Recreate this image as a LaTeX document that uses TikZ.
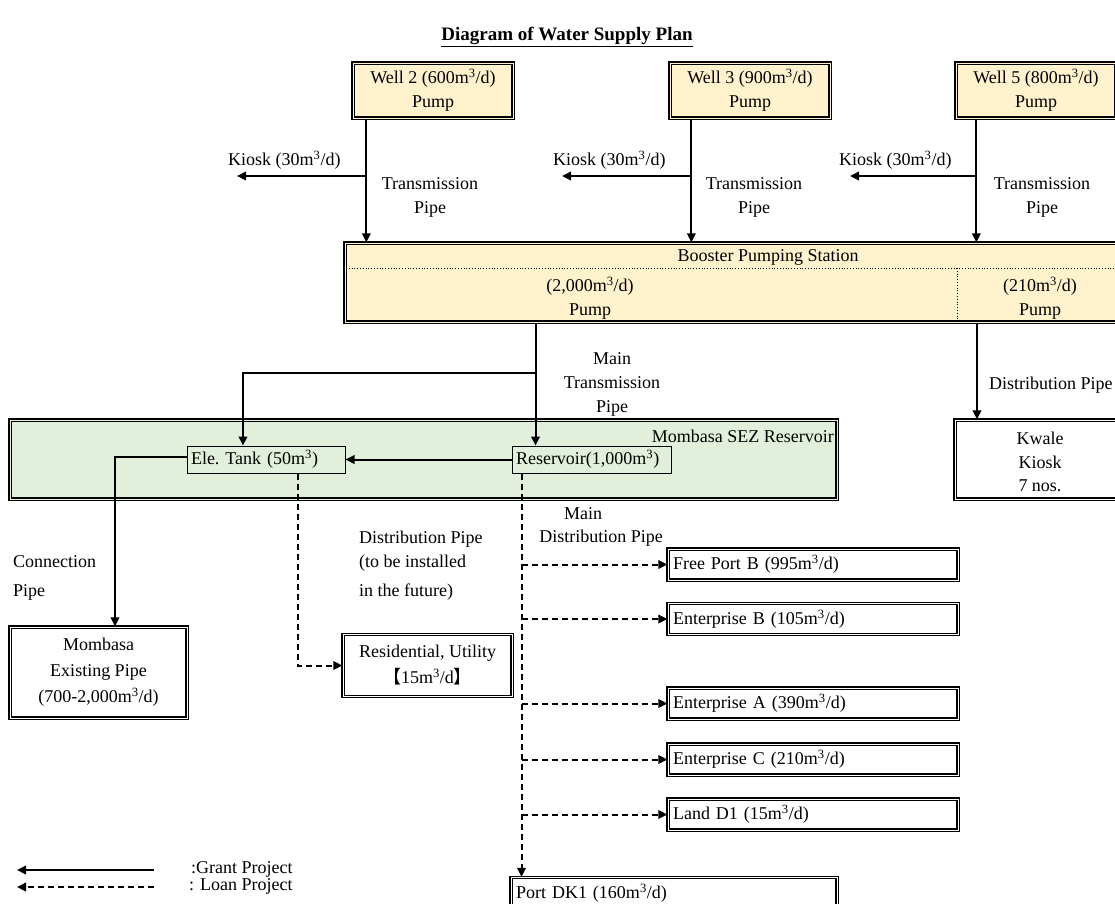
\documentclass[tikz,border=0pt]{standalone}
\usepackage{fontspec}
\setmainfont{Liberation Serif}
\newfontfamily\cjkfont{Noto Sans CJK JP}
\usetikzlibrary{arrows.meta}
\definecolor{wellfill}{HTML}{FFF2CC}
\definecolor{sezfill}{HTML}{E2EFDA}
\newcommand\cubm{m\textsuperscript{3}}
\begin{document}
\begin{tikzpicture}[x=1pt,y=-1pt,font=\fontsize{18}{24}\selectfont,
  tip/.style={-{Triangle[length=9pt,width=8.5pt]}},
  grant/.style={line width=2pt,tip},
  loan/.style={line width=2pt,dash pattern=on 6pt off 4pt,tip},
  dbl/.style={draw=black,line width=1.3pt,double=#1,double distance=1pt,fill=#1},
  wellbox/.style={dbl=wellfill,align=center,inner sep=0pt},
  thinbox/.style={draw=black,line width=1pt,minimum height=27,inner xsep=3pt,align=left},
  cbox/.style={dbl=white,minimum width=290,minimum height=31,text width=280,align=left,inner xsep=4pt},
  lbl/.style={align=center,inner sep=0pt}]
\useasboundingbox (0,0) rectangle (1115,903);
\clip (0,0) rectangle (1115,903);

% title
\node[inner sep=0pt] (title) at (567,37) {\fontsize{19}{24}\selectfont\bfseries\underline{Diagram of Water Supply Plan}};

% wells
\node[wellbox,minimum width=160,minimum height=55] (well2) at (433,90.5) {Well 2 (600\cubm/d)\\Pump};
\node[wellbox,minimum width=160,minimum height=55] (well3) at (750,90.5) {Well 3 (900\cubm/d)\\Pump};
\node[wellbox,minimum width=160,minimum height=55] (well5) at (1036,90.5) {Well 5 (800\cubm/d)\\Pump};

% booster pumping station
\node[wellbox,minimum width=846,minimum height=79] (booster) at (768,282.5) {};
\node[lbl] (bhead) at (768,257) {Booster Pumping Station};
\draw[dotted,line width=0.8pt] (346,268) -- (1190,268);
\draw[dotted,line width=0.8pt] (957,268) -- (957,321);
\node[lbl] (bleft) at (590,298.5) {(2,000\cubm/d)\\Pump};
\node[lbl] (bright) at (1040,298.5) {(210\cubm/d)\\Pump};

% reservoir site
\node[dbl=sezfill,minimum width=827,minimum height=79] (sez) at (423.5,459.5) {};
\node[anchor=east,inner sep=0pt] (sezlbl) at (834,436) {Mombasa SEZ Reservoir};
\node[thinbox,minimum width=158,text width=150] (etank) at (266,459.5) {Ele.\ Tank (50\cubm)};
\node[thinbox,minimum width=159,text width=151] (res) at (591.5,459.5) {Reservoir(1,000\cubm)};

% kwale kiosk
\node[dbl=white,minimum width=170,minimum height=79,align=center] (kwale) at (1040,459.5) {\strut Kwale\\Kiosk\\[-1pt]7 nos.};

% outlets
\node[dbl=white,minimum width=177,minimum height=91,align=center,font=\fontsize{18}{26}\selectfont] (mb) at (98.5,672.5) {Mombasa\\Existing Pipe\\(700-2,000\cubm/d)};
\node[dbl=white,minimum width=169,minimum height=62,align=center,font=\fontsize{18}{26}\selectfont] (resid) at (427.5,665.5) {Residential, Utility\\{\cjkfont 【}15\cubm/d{\cjkfont 】}};
\node[cbox] (fpb) at (813,564.5) {Free Port B (995\cubm/d)};
\node[cbox] (entb) at (813,619) {Enterprise B (105\cubm/d)};
\node[cbox] (enta) at (813,703.5) {Enterprise A (390\cubm/d)};
\node[cbox] (entc) at (813,759.5) {Enterprise C (210\cubm/d)};
\node[cbox] (landd) at (813,814.5) {Land D1 (15\cubm/d)};
\node[cbox,minimum width=326,text width=316] (pdk) at (674,893) {Port DK1 (160\cubm/d)};

% pipe labels
\node[lbl] (tp2) at (430,197) {Transmission\\Pipe};
\node[lbl] (tp3) at (754,197) {Transmission\\Pipe};
\node[lbl] (tp5) at (1042,197) {Transmission\\Pipe};
\node[anchor=west,inner sep=0pt] (k2) at (228,160) {Kiosk (30\cubm/d)};
\node[anchor=west,inner sep=0pt] (k3) at (553,160) {Kiosk (30\cubm/d)};
\node[anchor=west,inner sep=0pt] (k5) at (839,160) {Kiosk (30\cubm/d)};
\node[lbl] (mtp) at (612,384) {Main\\Transmission\\Pipe};
\node[anchor=west,inner sep=0pt] (dpr) at (989,385) {Distribution Pipe};
\node[lbl] (mdp1) at (583,514) {Main};
\node[lbl] (mdp2) at (601,538) {Distribution Pipe};
\node[anchor=west,align=left,inner sep=0pt] (fut) at (359,565.5) {Distribution Pipe\\(to be installed\\[5pt]in the future)};
\node[anchor=west,align=left,inner sep=0pt] (conn) at (13,577.5) {Connection\\[5pt]Pipe};

% transmission pipes from wells
\coordinate (w2o) at ([xshift=14pt]well2.south west);
\coordinate (w3o) at ([xshift=22pt]well3.south west);
\coordinate (w5o) at ([xshift=21pt]well5.south west);
\coordinate (k2a) at (237,176);
\coordinate (k3a) at (562,176);
\coordinate (k5a) at (850,176);
\draw[grant] (w2o) -- (w2o |- booster.north);
\draw[grant] (w3o) -- (w3o |- booster.north);
\draw[grant] (w5o) -- (w5o |- booster.north);
\draw[grant] (w2o |- k2a) -- (k2a);
\draw[grant] (w3o |- k3a) -- (k3a);
\draw[grant] (w5o |- k5a) -- (k5a);

% main transmission and distribution
\coordinate (mtx) at ([xshift=24pt]res.north west);
\coordinate (etin) at ([xshift=-23pt]etank.north);
\coordinate (brpt) at (mtx |- 0,373);
\draw[grant] (mtx |- booster.south) -- (mtx);
\draw[grant] (brpt) -| (etin);
\coordinate (kx) at ([xshift=-63pt]kwale.north);
\draw[grant] (kx |- booster.south) -- (kx);
\draw[grant] (res.west) -- (etank.east);

% connection to the existing pipe
\coordinate (cb) at ([xshift=16.5pt]mb.north |- etank.west);
\draw[grant] ([yshift=3pt]etank.west) -| (cb |- mb.north);

% future distribution pipe
\coordinate (fx) at ([xshift=32pt]etank.south);
\draw[loan] (fx) |- (resid.west);

% main distribution pipe
\coordinate (tr) at ([xshift=10pt]res.south west);
\draw[loan] (tr) -- (tr |- pdk.north);
\foreach \n in {fpb,entb,enta,entc,landd}
  \draw[loan] (tr |- \n.west) -- (\n.west);

% legend
\coordinate (g1) at (154,870);
\coordinate (g2) at (17,870);
\coordinate (l1) at (154,887);
\coordinate (l2) at (17,887);
\draw[grant] (g1) -- (g2);
\draw[loan] (l1) -- (l2);
\node[anchor=west,inner sep=0pt] (gl) at (191,869) {:Grant Project};
\node[anchor=west,inner sep=0pt] (ll) at (189,886) {: Loan Project};
\end{tikzpicture}
\end{document}
